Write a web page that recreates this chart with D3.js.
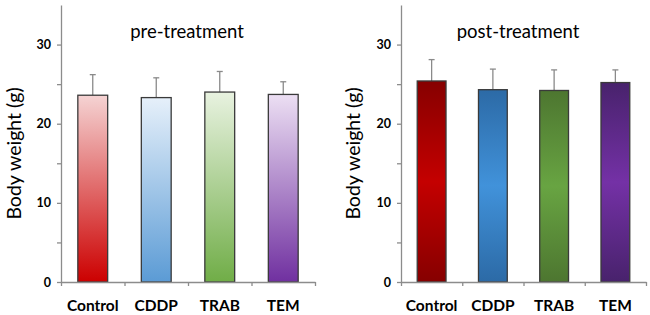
<!DOCTYPE html>
<html>
<head>
<meta charset="utf-8">
<script src="https://cdn.jsdelivr.net/npm/d3@7"></script>
<style>
  body { margin: 0; background: #fff; }
  svg { display: block; }
</style>
</head>
<body>
<div id="chart"></div>
<script>
// Data
const groups = ['Control', 'CDDP', 'TRAB', 'TEM'];
const preMean = [23.6, 23.3, 24.0, 23.7];
const preErr = [2.6, 2.5, 2.6, 1.6];
const postMean = [25.4, 24.3, 24.2, 25.2];
const postErr = [2.7, 2.6, 2.6, 1.6];
const yTicks = [0, 5, 10, 15, 20, 25, 30];
const panelTitles = ['pre-treatment', 'post-treatment'];

// Bar fills: pre = light top -> saturated bottom, post = dark edges, bright middle
const preColors = [
  ['#f5d3d3', '#cc0000'],
  ['#e6f0fa', '#5b9bd5'],
  ['#e8f2e0', '#70ad47'],
  ['#ecdff3', '#7030a0']
];
const postColors = [
  ['#860000', '#c40000'],
  ['#2c6aa6', '#4192da'],
  ['#4d7630', '#68a442'],
  ['#48226c', '#7431a6']
];

const width = 650, height = 315;
const svg = d3.select('#chart').append('svg')
    .attr('width', width)
    .attr('height', height);
const defs = svg.append('defs');

const axisColor = '#8c8c8c';
const font = 'Lato, "Open Sans", sans-serif';

function drawPanel(cfg) {
  const y = d3.scaleLinear().domain([0, 35]).range([cfg.y0, cfg.yTop]);
  const x = d3.scaleBand().domain(groups).range([cfg.x0, cfg.x1]).paddingInner(0.53).paddingOuter(0.265);
  const xEdge = d3.scaleLinear().domain([0, groups.length]).range([cfg.x0, cfg.x1]);

  const g = svg.append('g');

  // gradients
  groups.forEach((name, i) => {
    const c = cfg.colors[i];
    const grad = defs.append('linearGradient')
        .attr('id', `${cfg.id}-g${i}`)
        .attr('x1', 0).attr('y1', 0).attr('x2', 0).attr('y2', 1);
    if (cfg.kind === 'pre') {
      grad.append('stop').attr('offset', '0%').attr('stop-color', c[0]);
      grad.append('stop').attr('offset', '100%').attr('stop-color', c[1]);
    } else {
      grad.append('stop').attr('offset', '0%').attr('stop-color', c[0]);
      grad.append('stop').attr('offset', '50%').attr('stop-color', c[1]);
      grad.append('stop').attr('offset', '100%').attr('stop-color', c[0]);
    }
  });

  // error bars (behind bars)
  const err = g.append('g')
      .attr('stroke', '#8a8a8a')
      .attr('stroke-width', 1.3);
  cfg.mean.forEach((m, i) => {
    const cx = x(groups[i]) + x.bandwidth() / 2;
    err.append('line')
        .attr('x1', cx).attr('x2', cx)
        .attr('y1', y(m)).attr('y2', y(m + cfg.err[i]));
    err.append('line')
        .attr('x1', cx - 3).attr('x2', cx + 3)
        .attr('y1', y(m + cfg.err[i])).attr('y2', y(m + cfg.err[i]));
  });

  // bars
  g.selectAll('rect.bar')
    .data(cfg.mean)
    .join('rect')
      .attr('class', 'bar')
      .attr('x', (d, i) => x(groups[i]))
      .attr('y', d => y(d))
      .attr('width', x.bandwidth())
      .attr('height', d => y(0) - y(d))
      .attr('fill', (d, i) => `url(#${cfg.id}-g${i})`)
      .attr('stroke', '#3a3a3a')
      .attr('stroke-width', 1.3);

  // y axis
  const yAxis = d3.axisLeft(y)
      .tickValues(yTicks)
      .tickSize(4)
      .tickSizeOuter(0)
      .tickPadding(6)
      .tickFormat(d => d % 10 === 0 ? d : '');
  const yAxisG = g.append('g')
      .attr('transform', `translate(${cfg.x0},0)`)
      .call(yAxis);
  yAxisG.select('.domain').attr('stroke', axisColor).attr('stroke-width', 1.3);
  yAxisG.selectAll('.tick line').attr('stroke', axisColor).attr('stroke-width', 1.3);
  yAxisG.selectAll('.tick text')
      .attr('fill', '#000')
      .style('font-family', font)
      .style('font-weight', 'bold')
      .style('font-size', '12.5px');

  // x axis with ticks at category edges
  const xAxis = d3.axisBottom(xEdge)
      .tickValues(d3.range(groups.length + 1))
      .tickSize(4)
      .tickSizeOuter(0)
      .tickFormat('');
  const xAxisG = g.append('g')
      .attr('transform', `translate(0,${cfg.y0})`)
      .call(xAxis);
  xAxisG.select('.domain').attr('stroke', axisColor).attr('stroke-width', 1.3);
  xAxisG.selectAll('.tick line').attr('stroke', axisColor).attr('stroke-width', 1.3);

  // category labels
  g.selectAll('text.cat')
    .data(groups)
    .join('text')
      .attr('class', 'cat')
      .attr('x', d => x(d) + x.bandwidth() / 2)
      .attr('y', cfg.y0 + 29)
      .attr('text-anchor', 'middle')
      .style('font-family', font)
      .style('font-weight', 'bold')
      .style('font-size', '15.5px')
      .text(d => d);

  // y axis title
  g.append('text')
      .attr('transform', `translate(${cfg.titleX},${(cfg.y0 + cfg.yTop) / 2 + 10}) rotate(-90)`)
      .attr('text-anchor', 'middle')
      .attr('dy', '0.35em')
      .style('font-family', font)
      .style('font-size', '19.5px')
      .text('Body weight (g)');

  // panel title
  g.append('text')
      .attr('x', cfg.headX)
      .attr('y', 38)
      .attr('text-anchor', 'middle')
      .style('font-family', font)
      .style('font-size', '18.5px')
      .text(cfg.title);
}

drawPanel({
  id: 'pre', kind: 'pre', x0: 61, x1: 315, y0: 282, yTop: 5,
  mean: preMean, err: preErr, colors: preColors,
  titleX: 14, headX: 187, title: panelTitles[0]
});
drawPanel({
  id: 'post', kind: 'post', x0: 401, x1: 646, y0: 282, yTop: 5,
  mean: postMean, err: postErr, colors: postColors,
  titleX: 353, headX: 518, title: panelTitles[1]
});
</script>
</body>
</html>
